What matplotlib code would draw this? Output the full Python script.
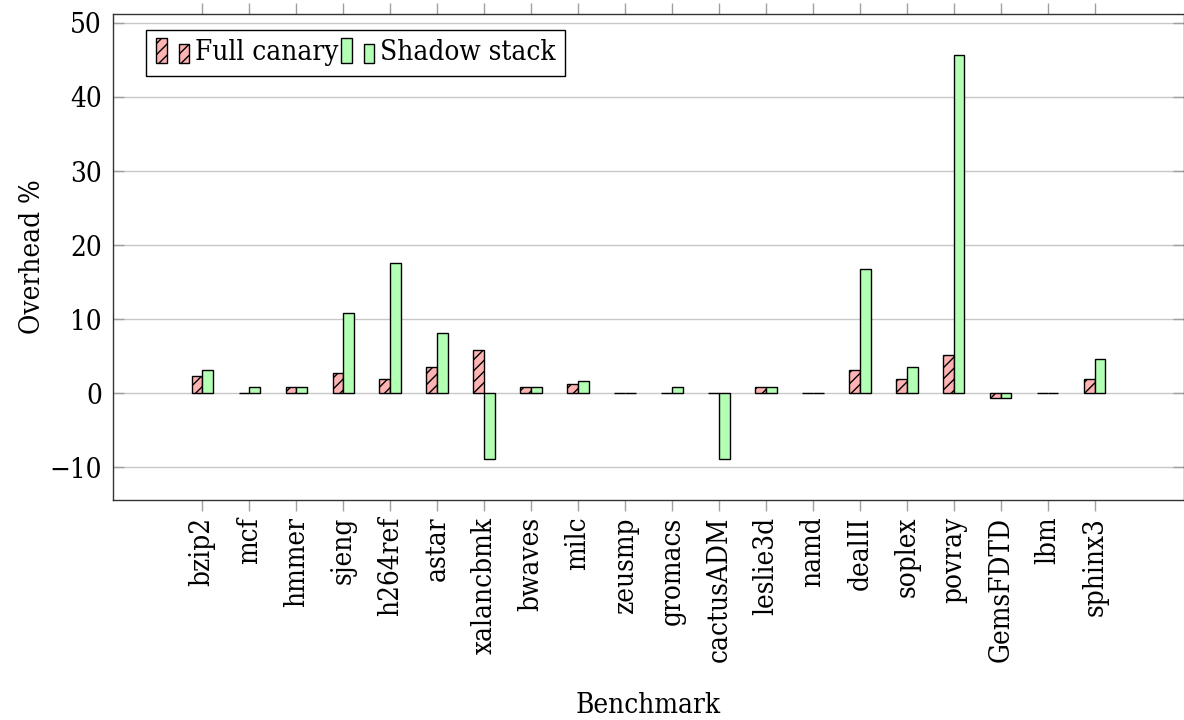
import numpy as np
import matplotlib
matplotlib.use('Agg')
import matplotlib.pyplot as plt
from matplotlib.patches import Rectangle
from matplotlib.legend_handler import HandlerBase

benchmarks = ['bzip2', 'mcf', 'hmmer', 'sjeng', 'h264ref', 'astar', 'xalancbmk',
              'bwaves', 'milc', 'zeusmp', 'gromacs', 'cactusADM', 'leslie3d', 'namd',
              'dealII', 'soplex', 'povray', 'GemsFDTD', 'lbm', 'sphinx3']
full_canary = [2.3, 0.0, 0.8, 2.7, 2.0, 3.6, 5.9, 0.9, 1.2, 0.0,
               0.0, 0.0, 0.9, 0.0, 3.2, 2.0, 5.2, -0.6, 0.0, 2.0]
shadow_stack = [3.2, 0.8, 0.8, 10.8, 17.6, 8.2, -8.9, 0.9, 1.6, 0.0,
                0.8, -8.8, 0.9, 0.0, 16.8, 3.6, 45.7, -0.6, 0.0, 4.6]


class HandlerTwoBars(HandlerBase):
    """pgfplots-style ybar legend image: two small bars side by side."""

    def create_artists(self, legend, orig_handle, xdescent, ydescent,
                       width, height, fontsize, trans):
        bw = width * 0.32
        artists = []
        for x0, frac in [(0.0, 1.0), (width - bw, 0.75)]:
            r = Rectangle((x0 - xdescent, -ydescent - 0.15 * height), bw, 1.3 * height * frac,
                          facecolor=orig_handle.get_facecolor(),
                          edgecolor=orig_handle.get_edgecolor(),
                          hatch=orig_handle.get_hatch(),
                          linewidth=orig_handle.get_linewidth(),
                          transform=trans)
            artists.append(r)
        return artists


plt.rcParams['font.family'] = 'DejaVu Serif'
plt.rcParams['font.stretch'] = 'condensed'
plt.rcParams['font.size'] = 20
plt.rcParams['hatch.linewidth'] = 1.0

W, H = 1184, 720
fig = plt.figure(figsize=(W / 100, H / 100), dpi=100)
ax = fig.add_axes([113 / W, (H - 500) / H, (W - 113) / W, (500 - 14) / H])

x = np.arange(len(benchmarks))
bw = 0.227
b1 = ax.bar(x - bw / 2, full_canary, bw, facecolor='#ffb3b3', edgecolor='black',
            hatch='///', linewidth=1.0, zorder=3)
b2 = ax.bar(x + bw / 2, shadow_stack, bw, facecolor='#b3ffb3', edgecolor='black',
            linewidth=1.0, zorder=3)

ax.set_xlim(-1.9, 20.9)
ax.set_ylim(-14.4, 51.2)
ax.set_yticks([-10, 0, 10, 20, 30, 40, 50])
ax.set_yticklabels(['\u221210', '0', '10', '20', '30', '40', '50'])
ax.set_xticks(x)
ax.set_xticklabels(benchmarks, rotation=90)

ax.yaxis.grid(True, color='#c8c8c8', linewidth=1.0, zorder=0)
ax.set_axisbelow(True)
ax.tick_params(axis='x', direction='out', top=True, bottom=True, length=8,
               color='#a0a0a0', width=1.0, pad=4)
ax.tick_params(axis='y', direction='in', left=True, right=True, length=8,
               color='#a0a0a0', width=1.0, pad=8)
for s in ax.spines.values():
    s.set_linewidth(1.0)
    s.set_color('#333333')

ax.set_xlabel('Benchmark')
ax.xaxis.set_label_coords(0.5, -0.395)
ax.set_ylabel('Overhead %')
ax.yaxis.set_label_coords(-0.063, 0.5)

leg = ax.legend([b1.patches[0], b2.patches[0]], ['Full canary', 'Shadow stack'],
                handler_map={Rectangle: HandlerTwoBars()},
                loc='upper left', bbox_to_anchor=(0.031, 0.968), borderaxespad=0,
                ncol=2, fancybox=False, framealpha=1, edgecolor='black',
                handlelength=1.2, handletextpad=0.2, columnspacing=0.1,
                borderpad=0.35)
leg.get_frame().set_linewidth(1.0)

fig.savefig('out.png', dpi=100)
